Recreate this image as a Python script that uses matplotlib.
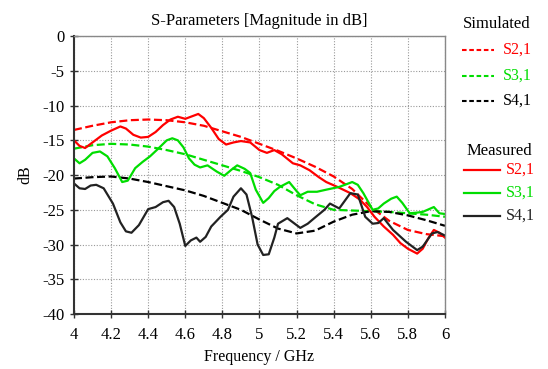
import matplotlib
matplotlib.use("Agg")
import matplotlib.pyplot as plt
from matplotlib.lines import Line2D

plt.rcParams['font.family'] = ['Liberation Serif', 'DejaVu Serif']
plt.rcParams['axes.unicode_minus'] = False

# Simulated (dashed)
sim_f = [4.0, 4.1, 4.2, 4.3, 4.4, 4.5, 4.6, 4.7, 4.8, 4.9, 5.0, 5.1, 5.2, 5.3, 5.4, 5.5, 5.6, 5.7, 5.8, 5.9, 6.0]
sim_s21 = [-13.5, -12.9, -12.4, -12.1, -12.0, -12.1, -12.4, -12.9, -13.7, -14.5, -15.5, -16.5, -17.6, -18.8, -20.2, -22.0, -24.6, -26.6, -27.9, -28.5, -28.8]
sim_s31 = [-16.2, -15.7, -15.5, -15.6, -15.9, -16.4, -17.0, -17.8, -18.6, -19.4, -20.3, -21.4, -22.9, -24.2, -25.0, -25.1, -25.2, -25.3, -25.5, -25.7, -26.0]
sim_s41 = [-20.5, -20.3, -20.2, -20.5, -21.0, -21.6, -22.2, -23.0, -24.0, -25.0, -26.4, -27.7, -28.4, -28.0, -26.7, -25.7, -25.2, -25.3, -25.8, -26.5, -27.3]

# Measured (solid)
m21_f = [4.00, 4.03, 4.06, 4.10, 4.15, 4.20, 4.25, 4.28, 4.32, 4.36, 4.40, 4.44, 4.48, 4.52, 4.56, 4.60, 4.64, 4.67, 4.70, 4.74,
         4.78, 4.82, 4.86, 4.90, 4.95, 5.00, 5.04, 5.08, 5.12, 5.18, 5.22, 5.27, 5.32, 5.36, 5.42, 5.49, 5.54, 5.58, 5.62, 5.67,
         5.72, 5.76, 5.80, 5.85, 5.88, 5.91, 5.94, 5.97, 6.00]
m21_v = [-15.0, -15.8, -16.1, -15.3, -14.3, -13.6, -13.0, -13.3, -14.2, -14.6, -14.5, -13.8, -12.8, -12.0, -11.6, -11.9, -11.5, -11.2, -11.8, -13.2,
         -14.8, -15.6, -15.3, -15.1, -15.3, -16.4, -16.8, -16.4, -17.0, -18.3, -18.6, -19.3, -20.3, -21.0, -21.7, -22.6, -23.5, -24.6, -26.0, -27.4,
         -28.6, -29.8, -30.6, -31.3, -30.6, -29.1, -27.9, -28.3, -29.0]

m31_f = [4.00, 4.03, 4.06, 4.10, 4.14, 4.18, 4.22, 4.26, 4.29, 4.33, 4.37, 4.41, 4.45, 4.50, 4.53, 4.56, 4.59, 4.62, 4.65, 4.68,
         4.72, 4.77, 4.81, 4.85, 4.88, 4.92, 4.95, 4.98, 5.02, 5.05, 5.08, 5.11, 5.16, 5.20, 5.22, 5.26, 5.31, 5.36, 5.43, 5.50,
         5.53, 5.56, 5.61, 5.64, 5.67, 5.71, 5.74, 5.77, 5.81, 5.85, 5.88, 5.94, 5.97, 6.00]
m31_v = [-17.6, -18.3, -17.8, -16.8, -16.6, -17.3, -19.0, -21.0, -20.8, -19.0, -18.1, -17.3, -16.3, -15.0, -14.7, -15.0, -16.0, -17.6, -18.5, -18.9,
         -18.6, -19.5, -20.1, -19.2, -18.6, -19.1, -19.7, -22.1, -24.0, -23.3, -22.3, -21.7, -21.0, -22.3, -22.9, -22.4, -22.4, -22.1, -21.7, -21.0,
         -21.4, -22.6, -25.0, -24.8, -24.1, -23.4, -23.1, -24.0, -25.5, -25.4, -25.3, -24.6, -25.5, -25.6]

m41_f = [4.00, 4.03, 4.06, 4.09, 4.12, 4.16, 4.21, 4.25, 4.28, 4.31, 4.35, 4.40, 4.44, 4.48, 4.51, 4.54, 4.57, 4.60, 4.63, 4.66,
         4.68, 4.71, 4.74, 4.79, 4.83, 4.86, 4.90, 4.93, 4.96, 4.99, 5.02, 5.05, 5.08, 5.10, 5.15, 5.18, 5.22, 5.26, 5.30, 5.35,
         5.38, 5.43, 5.49, 5.53, 5.57, 5.61, 5.64, 5.67, 5.72, 5.79, 5.85, 5.88, 5.93, 5.96, 6.00]
m41_v = [-21.2, -21.9, -22.0, -21.5, -21.4, -21.9, -24.1, -26.8, -28.1, -28.3, -27.2, -24.9, -24.6, -23.9, -23.7, -24.6, -27.0, -30.2, -29.4, -29.0,
         -29.6, -28.9, -27.4, -26.0, -25.0, -23.1, -21.9, -22.8, -26.0, -30.0, -31.5, -31.4, -29.0, -27.0, -26.2, -26.8, -27.6, -27.0, -26.1, -25.0,
         -24.1, -24.8, -22.6, -22.8, -26.0, -27.0, -26.9, -26.2, -27.9, -29.6, -30.8, -30.3, -28.4, -28.2, -28.7]

x_ticks = [4.0, 4.2, 4.4, 4.6, 4.8, 5.0, 5.2, 5.4, 5.6, 5.8, 6.0]
x_labels = ['4', '4.2', '4.4', '4.6', '4.8', '5', '5.2', '5.4', '5.6', '5.8', '6']
y_ticks = [0, -5, -10, -15, -20, -25, -30, -35, -40]

RED = '#ff0000'
GREEN = '#00dd00'
BLACK = '#000000'
DARK = '#222222'

fig = plt.figure(figsize=(5.48, 3.69), dpi=100)
ax = fig.add_axes([0.135, 0.149, 0.677, 0.753])

lw = 1.6
dash = (0, (3.6, 1.6))
ax.plot(sim_f, sim_s21, color=RED, lw=lw, ls=dash)
ax.plot(sim_f, sim_s31, color=GREEN, lw=lw, ls=dash)
ax.plot(sim_f, sim_s41, color=BLACK, lw=lw, ls=dash)
ax.plot(m21_f, m21_v, color=RED, lw=lw, solid_joinstyle='round')
ax.plot(m31_f, m31_v, color=GREEN, lw=lw, solid_joinstyle='round')
ax.plot(m41_f, m41_v, color=DARK, lw=lw, solid_joinstyle='round')

ax.set_xlim(4, 6)
ax.set_ylim(-40, 0)
ax.set_xticks(x_ticks)
ax.set_xticklabels(x_labels)
ax.set_yticks(y_ticks)
ax.grid(True, color='#999999', lw=0.8, ls=(0, (1, 1.5)))
ax.tick_params(direction='inout', length=6, width=1, labelsize=12, color='#333333')
ax.tick_params(axis='x', pad=6)
ax.tick_params(axis='y', pad=4)
for s in ['left', 'bottom']:
    ax.spines[s].set_linewidth(1.5)
    ax.spines[s].set_color('#333333')
for s in ['top', 'right']:
    ax.spines[s].set_linewidth(1.0)
    ax.spines[s].set_color('#888888')

ax.set_title('S-Parameters [Magnitude in dB]', fontsize=12, pad=8)
ax.set_xlabel('Frequency / GHz', fontsize=11.5, labelpad=5)
ax.set_ylabel('dB', fontsize=11.5, labelpad=6)

# Custom legend (figure coordinates, pixels -> fraction)
W, H = 548.0, 369.0
def fx(px):
    return px / W
def fy(py):
    return 1 - py / H

fig.text(fx(497), fy(24), 'Simulated', ha='center', va='center', fontsize=12)
sim_rows = [('S2,1', RED, 50), ('S3,1', GREEN, 76), ('S4,1', BLACK, 101)]
for lab, c, y in sim_rows:
    fig.add_artist(Line2D([fx(462), fx(494)], [fy(y), fy(y)], color=c, lw=1.5, ls=(0, (2.2, 1.3))))
    fig.text(fx(503), fy(y), lab, ha='left', va='center', fontsize=11.5, color=c)

fig.text(fx(499), fy(151), 'Measured', ha='center', va='center', fontsize=12)
meas_rows = [('S2,1', RED, 170), ('S3,1', GREEN, 193), ('S4,1', DARK, 216)]
for lab, c, y in meas_rows:
    fig.add_artist(Line2D([fx(464), fx(500)], [fy(y), fy(y)], color=c, lw=1.6))
    fig.text(fx(506), fy(y), lab, ha='left', va='center', fontsize=11.5, color=c)

fig.savefig('out.png', dpi=100)
